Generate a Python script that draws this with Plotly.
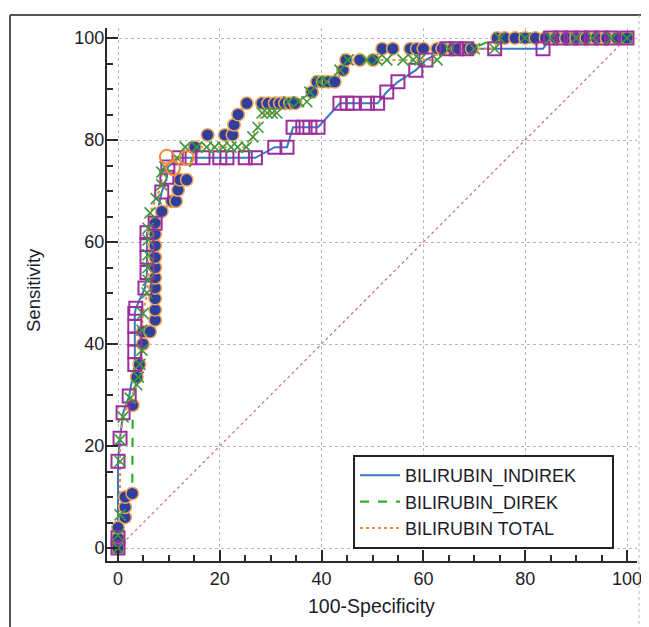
import plotly.graph_objects as go

# ---------------- data ----------------
indirek_x = [0, 0, 0, 0.4, 1, 2.2, 3.3, 3.3, 3.3, 3.3, 3.3, 3.5, 5.3, 5.7, 5.7, 5.7, 5.7, 7.3, 8.6, 9.6,
             9.8, 12, 14, 16.7, 20, 21.4, 25, 27, 30.8, 33.2, 34.4, 36.3, 37.7, 39.3, 43.6, 45, 46.2, 49, 51,
             52.8, 55, 58.5, 60.5, 64.6, 66.5, 68.5, 74, 83.5, 85, 87, 89, 91, 93, 95, 97, 100]
indirek_y = [0, 2, 17, 21.5, 26.5, 29.8, 36, 38.5, 41, 43.5, 46, 47, 51, 54, 57, 59.5, 61.8, 63.7, 69.8, 72.7,
             74.7, 76.5, 76.5, 76.5, 76.5, 76.5, 76.5, 76.5, 78.6, 78.6, 82.5, 82.5, 82.5, 82.5, 87.2, 87.2, 87.2,
             87.2, 87.2, 89.4, 91.4, 93.7, 95.7, 97.9, 97.9, 97.9, 97.9, 97.9, 100, 100, 100, 100, 100, 100, 100, 100]

direk_x = [0, 0, 0, 1.4, 1.4, 1.4, 2.8, 2.9, 3.7, 4.2, 4.9, 4.9, 6.3, 7.3, 7.3, 7.3, 7.3, 7.3, 7.3, 7.3, 7.3,
           7.3, 7.3, 8.6, 10.6, 11.4, 11.8, 12.2, 13.5, 15.1, 17.6, 21, 22.5, 22.8, 23.6, 25.3, 28.3, 29.5,
           30.8, 31.8, 32.8, 33.8, 34.8, 38.1, 39.1, 40.2, 41.3, 42.6, 44.2, 44.8, 47.5, 50.1, 51.9, 54, 57.4,
           58.7, 60, 62.7, 63.7, 65.8, 66.8, 68.6, 69.5, 74.5, 76, 78, 80, 82, 84, 86, 88, 90, 92, 94, 96, 98, 100]
direk_y = [0, 2, 4, 6, 8, 10, 10.7, 28, 33.5, 36, 40, 42.4, 42.4, 44.7, 46.7, 48.9, 51, 53, 55, 57, 59.3,
           61.5, 63.7, 66, 68, 68, 70.2, 72.2, 72.2, 78.6, 81, 81, 81, 83, 85, 87.2, 87.2, 87.2, 87.2, 87.2,
           87.2, 87.2, 87.2, 89.4, 91.4, 91.4, 91.4, 91.4, 93.7, 95.7, 95.7, 95.7, 97.9, 97.9, 97.9, 97.9,
           97.9, 97.9, 97.9, 97.9, 97.9, 97.9, 97.9, 100, 100, 100, 100, 100, 100, 100, 100, 100, 100, 100,
           100, 100, 100]

total_x = [0, 0, 0.4, 0.4, 0.4, 1, 2.4, 3.7, 4, 4.3, 4.7, 4.7, 4.9, 5.7, 5.9, 5.9, 5.9, 5.9, 5.9, 6.3, 7.5,
           8.6, 8.6, 9.2, 11.6, 13.2, 15.5, 17.4, 19, 20.6, 22.2, 23.5, 25.2, 26.5, 27.5, 28.3, 29.3, 30.3,
           31.2, 33.5, 35.5, 37.1, 37.7, 39.5, 41, 43.6, 45.2, 48.9, 50.9, 52.8, 56, 58, 59.3, 62.7, 65, 70,
           74, 75, 80, 85, 90, 93.3, 97, 100]
total_y = [0, 2.5, 6.5, 17, 21.2, 25.7, 29.4, 32, 33.5, 36, 38.8, 42.7, 46, 50, 52.5, 55, 57.5, 60.4, 62.7,
           65.7, 68.5, 71.2, 73.7, 74.7, 76.5, 78.6, 78.6, 78.6, 78.6, 78.6, 78.6, 78.6, 78.6, 80.6, 82.5,
           85.3, 85.3, 85.3, 85.3, 87.5, 87.5, 87.5, 89.4, 91.4, 91.4, 93.7, 95.7, 95.7, 95.7, 95.7, 95.7,
           95.7, 95.7, 95.7, 97.9, 97.9, 97.9, 100, 100, 100, 100, 100, 100, 100]

extra_x = [9.6, 10.8, 13.5]
extra_y = [76.7, 74.5, 76.5]

diag_x = [0, 100]
diag_y = [0, 100]

series_names = ["BILIRUBIN_INDIREK", "BILIRUBIN_DIREK", "BILIRUBIN TOTAL"]
tick_vals = [0, 20, 40, 60, 80, 100]

# ---------------- figure ----------------
# the page body has an 8px default margin, so the figure is placed at (8, 8)
OFF = 8
W, H = 649 - OFF, 627 - OFF
# plot area in reference-page pixels: x 107..637, y 28..561
PL, PR, PT, PB = 107, 637, 28, 561
ML, MR, MT, MB = PL - OFF, W - (PR - OFF), PT - OFF, H - (PB - OFF)
PW, PH = W - ML - MR, H - MT - MB


def xp(px):
    """reference page x pixel -> paper coordinate"""
    return (px - OFF - ML) / PW


def yp(py):
    """reference page y pixel -> paper coordinate"""
    return (H - MB - (py - OFF)) / PH


FONT = "Liberation Sans, Arial, sans-serif"
TXT = "#1c1c2a"
PAD = "\u00a0" * 6  # widens the legend box like the reference

fig = go.Figure()

# diagonal reference line
fig.add_trace(go.Scatter(x=diag_x, y=diag_y, mode="lines", showlegend=False,
                         line=dict(color="#d27a7a", width=1.3, dash="dot"), hoverinfo="skip"))

# curve lines (legend entries)
fig.add_trace(go.Scatter(x=indirek_x, y=indirek_y, mode="lines", name=series_names[0] + PAD,
                         line=dict(color="#3b78c4", width=2)))
fig.add_trace(go.Scatter(x=direk_x, y=direk_y, mode="lines", name=series_names[1],
                         line=dict(color="#2fae2f", width=2.2, dash="dash")))
fig.add_trace(go.Scatter(x=total_x, y=total_y, mode="lines", name=series_names[2],
                         line=dict(color="#f58a45", width=2, dash="dot")))

# markers
fig.add_trace(go.Scatter(x=direk_x, y=direk_y, mode="markers", showlegend=False,
                         marker=dict(symbol="circle", size=12.5, color="#2e3f9c",
                                     line=dict(color="#f2a55a", width=1.5))))
fig.add_trace(go.Scatter(x=indirek_x, y=indirek_y, mode="markers", showlegend=False,
                         marker=dict(symbol="square-open", size=13, color="#9c2f9c",
                                     line=dict(width=2))))
fig.add_trace(go.Scatter(x=total_x, y=total_y, mode="markers", showlegend=False,
                         marker=dict(symbol="x-thin-open", size=11, color="#3c9a3c",
                                     line=dict(width=1.6, color="#3c9a3c"))))
fig.add_trace(go.Scatter(x=extra_x, y=extra_y, mode="markers", showlegend=False,
                         marker=dict(symbol="circle-open", size=14, color="#f58a35",
                                     line=dict(width=2))))

axis_common = dict(
    automargin=False,
    showline=True, linecolor="#2a2a2a", linewidth=2, mirror=False,
    ticks="inside", ticklen=11, tickwidth=2, tickcolor="#2a2a2a",
    tickvals=tick_vals, showgrid=True, gridcolor="#b8b8b8", griddash="dot", gridwidth=1,
    zeroline=False, tickfont=dict(family=FONT, size=18, color=TXT),
    minor=dict(ticks="inside", dtick=5, tick0=0, ticklen=6, tickwidth=1.5,
               tickcolor="#2a2a2a", showgrid=False),
)

fig.update_xaxes(range=[(PL - 118) / 5.09, (PR - 118) / 5.09], ticklabelstandoff=0, **axis_common)
fig.update_yaxes(range=[(548 - PB) / 5.1, (548 - PT) / 5.1], ticklabelstandoff=-3, **axis_common)

fig.update_layout(
    width=W, height=H,
    margin=dict(l=ML, r=MR, t=MT, b=MB, pad=0, autoexpand=False),
    paper_bgcolor="white", plot_bgcolor="white",
    font=dict(family=FONT, color=TXT),
    showlegend=True,
    legend=dict(x=xp(353), y=yp(455), xanchor="left", yanchor="top",
                bgcolor="white", bordercolor="#222222", borderwidth=2,
                font=dict(family=FONT, size=18, color=TXT),
                itemwidth=40, tracegroupgap=0),
    annotations=[
        dict(text="100-Specificity", x=xp(371), y=yp(606), xref="paper", yref="paper",
             xanchor="center", yanchor="middle",
             showarrow=False, font=dict(family=FONT, size=19.5, color=TXT)),
        dict(text="Sensitivity", x=xp(33), y=yp(290), xref="paper", yref="paper",
             xanchor="center", yanchor="middle",
             showarrow=False, textangle=-90, font=dict(family=FONT, size=18.5, color=TXT)),
    ],
    shapes=[
        dict(type="line", xref="paper", yref="paper", x0=xp(10), x1=xp(641), y0=yp(15), y1=yp(15),
             line=dict(color="#555555", width=2)),
        dict(type="line", xref="paper", yref="paper", x0=xp(10), x1=xp(10), y0=yp(15), y1=yp(627),
             line=dict(color="#555555", width=2)),
        dict(type="line", xref="paper", yref="paper", x0=xp(639), x1=xp(639), y0=yp(15), y1=yp(627),
             line=dict(color="#bbbbbb", width=1, dash="dot")),
    ],
)

fig.write_html("out.html")
